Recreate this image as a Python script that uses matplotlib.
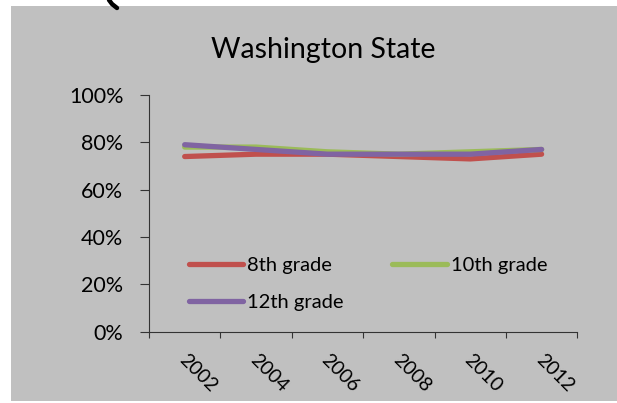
import matplotlib.pyplot as plt
from matplotlib.patches import Rectangle
from matplotlib.lines import Line2D
from matplotlib.transforms import ScaledTranslation

plt.rcParams['font.family'] = ['Lato', 'DejaVu Sans']

years = ['2002', '2004', '2006', '2008', '2010', '2012']
grade8 = [74, 75, 75, 74, 73, 75]
grade10 = [78, 78, 76, 75, 76, 77]
grade12 = [79, 77, 75, 75, 75, 77]
yticks = [0, 20, 40, 60, 80, 100]

fig = plt.figure(figsize=(6.17, 4.03), dpi=100)
W, H = 617, 403

# gray slide background and the stray stroke at the top
fig.patches.append(Rectangle((11 / W, 2 / H), 606 / W, 395 / H,
                             transform=fig.transFigure, facecolor='#c0c0c0',
                             edgecolor='none', zorder=-1))
fig.lines.append(Line2D([109 / W, 112 / W, 117 / W], [1.0, 1 - 4 / H, 1 - 8 / H],
                        transform=fig.transFigure, color='black', lw=3.2,
                        solid_capstyle='round'))

ax = fig.add_axes([149 / W, (H - 331.7) / H, 428.3 / W, 236.7 / H])
ax.set_facecolor('none')

x = [i + 0.5 for i in range(len(years))]
l8, = ax.plot(x, grade8, color='#C0504D', lw=3.8, solid_capstyle='round', label='8th grade')
l10, = ax.plot(x, grade10, color='#9BBB59', lw=3.8, solid_capstyle='round', label='10th grade')
l12, = ax.plot(x, grade12, color='#8064A2', lw=3.8, solid_capstyle='round', label='12th grade')

ax.set_xlim(0, len(years))
ax.set_ylim(0, 100)
ax.set_yticks(yticks)
ax.set_yticklabels([f'{v}%' for v in yticks], fontsize=15.5)
ax.set_xticks(range(len(years) + 1))
ax.set_xticklabels([])
ax.set_xticks(x, minor=True)
ax.set_xticklabels(years, minor=True, rotation=-45, ha='left', va='top',
                   rotation_mode='anchor', fontsize=14)
ax.tick_params(axis='x', which='minor', length=0, pad=14)
ax.tick_params(axis='x', which='major', length=4.3, width=0.8, color='#333333')
ax.tick_params(axis='y', length=6.5, width=0.8, pad=12, color='#333333')
for lab in ax.get_xticklabels(minor=True):
    lab.set_transform(lab.get_transform() + ScaledTranslation(3 / 100, 0, fig.dpi_scale_trans))

for s in ['top', 'right']:
    ax.spines[s].set_visible(False)
for s in ['left', 'bottom']:
    ax.spines[s].set_color('#333333')
    ax.spines[s].set_linewidth(0.8)

fig.text(323 / W, 1 - 58.3 / H, 'Washington State', ha='center', va='baseline', fontsize=20.5)

ax.legend([l8, l12, l10], ['8th grade', '12th grade', '10th grade'], ncol=2,
          frameon=False, fontsize=14.5, handlelength=2.7, handletextpad=0.2,
          columnspacing=2.4, labelspacing=1.0,
          loc='upper left', bbox_to_anchor=(189 / W, 1 - 257 / H),
          bbox_transform=fig.transFigure, borderpad=0, borderaxespad=0)

fig.savefig('out.png', dpi=100, facecolor='white')
